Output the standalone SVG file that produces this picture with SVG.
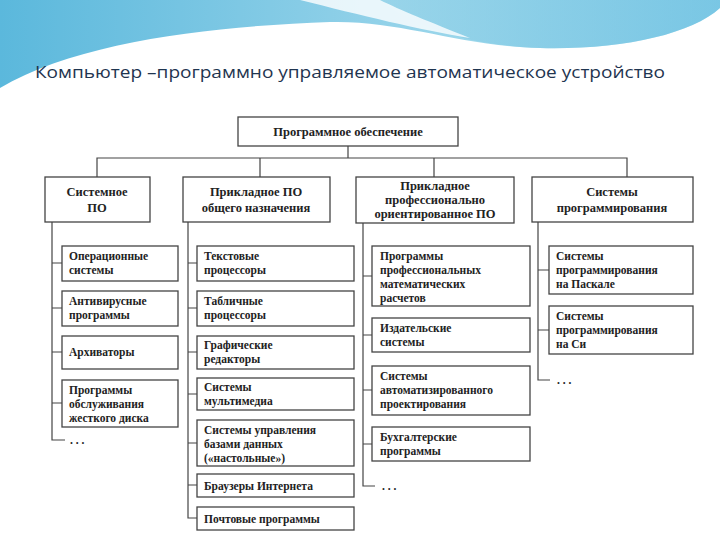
<svg xmlns="http://www.w3.org/2000/svg" width="720" height="540" viewBox="0 0 720 540">
<defs>
<linearGradient id="g1" x1="0" y1="0" x2="1" y2="0"><stop offset="0" stop-color="#5bb8dc"/><stop offset="0.5" stop-color="#8fd0e8"/><stop offset="1" stop-color="#b9e6f1"/></linearGradient>
<linearGradient id="g2" x1="0" y1="0" x2="1" y2="0"><stop offset="0" stop-color="#a9dcec"/><stop offset="1" stop-color="#4fb2dc"/></linearGradient>
</defs>
<style>
.b{fill:#fff;stroke:#444;stroke-width:1.3}
text{font-family:"Liberation Serif","DejaVu Serif","Times New Roman",serif;fill:#222;font-weight:bold}
.t{font-size:11.5px}
.h{font-size:12.5px}
.ti{font-family:"Open Sans","Noto Sans",sans-serif;font-weight:normal;fill:#1f3550}
.c{fill:none;stroke:#444;stroke-width:1.2}
</style>
<rect width="720" height="540" fill="#fff"/>
<path d="M0,0 H720 V8 C690,35 620,50 540,48 C460,46 400,20 330,22 C220,26 80,40 0,88 Z" fill="url(#g1)"/>
<path d="M330,0 H720 V8 C690,35 620,50 540,48 C470,45 420,30 380,0 Z" fill="url(#g2)" opacity="0.6"/>
<path d="M300,0 C360,15 420,30 470,38 C430,22 400,10 380,0 Z" fill="#fff" opacity="0.8"/>
<text class="ti" x="35" y="78" font-size="17" textLength="630" lengthAdjust="spacingAndGlyphs">Компьютер –программно управляемое автоматическое устройство</text>
<g id="connectors">
<path class="c" d="M348,146 V158 M97,177 V158 H627 V177 M260,158 V177 M434,158 V177"/>
<path class="c" d="M52,222 V440 H65 M52,263 H62 M52,308 H62 M52,352 H62 M52,403 H62"/>
<path class="c" d="M188,222 V518 H197 M188,263 H197 M188,308 H197 M188,352 H197 M188,394 H197 M188,443 H197 M188,485 H197"/>
<path class="c" d="M363,222 V486 H375 M363,276 H372 M363,335 H372 M363,390 H372 M363,444 H372"/>
<path class="c" d="M538,222 V380 H550 M538,270 H549 M538,330 H549"/>
</g>
<text class="t" x="70" y="444">. . .</text><text class="t" x="382" y="490">. . .</text><text class="t" x="557" y="384">. . .</text>
<g id="root"><rect class="b" x="238" y="117" width="220" height="29"/><text class="h" x="348" y="136" text-anchor="middle">Программное обеспечение</text></g>
<g id="sys"><rect class="b" x="45" y="177" width="105" height="45"/><text class="h" x="97" y="196" text-anchor="middle">Системное</text><text class="h" x="97" y="212" text-anchor="middle">ПО</text></g>
<g id="app"><rect class="b" x="183" y="177" width="147" height="45"/><text class="h" x="256" y="196" text-anchor="middle">Прикладное ПО</text><text class="h" x="256" y="212" text-anchor="middle">общего назначения</text></g>
<g id="prof"><rect class="b" x="356" y="177" width="158" height="46"/><text class="h" x="435" y="190" text-anchor="middle">Прикладное</text><text class="h" x="435" y="204" text-anchor="middle">профессионально</text><text class="h" x="435" y="218" text-anchor="middle">ориентированное ПО</text></g>
<g id="prog"><rect class="b" x="532" y="177" width="161" height="45"/><text class="h" x="612" y="196" text-anchor="middle">Системы</text><text class="h" x="612" y="212" text-anchor="middle">программирования</text></g>

<g id="os"><rect class="b" x="62" y="246" width="116" height="35"/><text class="t" x="69" y="260">Операционные</text><text class="t" x="69" y="274">системы</text></g>
<g id="av"><rect class="b" x="62" y="291" width="116" height="35"/><text class="t" x="69" y="305">Антивирусные</text><text class="t" x="69" y="319">программы</text></g>
<g id="arch"><rect class="b" x="62" y="336" width="116" height="33"/><text class="t" x="69" y="356">Архиваторы</text></g>
<g id="disk"><rect class="b" x="62" y="380" width="116" height="47"/><text class="t" x="69" y="394">Программы</text><text class="t" x="69" y="408">обслуживания</text><text class="t" x="69" y="422">жесткого диска</text></g>

<g id="txt"><rect class="b" x="197" y="246" width="157" height="35"/><text class="t" x="204" y="260">Текстовые</text><text class="t" x="204" y="274">процессоры</text></g>
<g id="tab"><rect class="b" x="197" y="291" width="157" height="35"/><text class="t" x="204" y="305">Табличные</text><text class="t" x="204" y="319">процессоры</text></g>
<g id="gr"><rect class="b" x="197" y="336" width="157" height="33"/><text class="t" x="204" y="349">Графические</text><text class="t" x="204" y="363">редакторы</text></g>
<g id="mm"><rect class="b" x="197" y="378" width="157" height="32"/><text class="t" x="204" y="391">Системы</text><text class="t" x="204" y="405">мультимедиа</text></g>
<g id="db"><rect class="b" x="197" y="420" width="157" height="46"/><text class="t" x="204" y="434">Системы управления</text><text class="t" x="204" y="448">базами данных</text><text class="t" x="204" y="462">(«настольные»)</text></g>
<g id="br"><rect class="b" x="197" y="474" width="157" height="23"/><text class="t" x="204" y="490">Браузеры Интернета</text></g>
<g id="mail"><rect class="b" x="197" y="507" width="157" height="23"/><text class="t" x="204" y="523">Почтовые программы</text></g>

<g id="math"><rect class="b" x="372" y="246" width="158" height="60"/><text class="t" x="380" y="260">Программы</text><text class="t" x="380" y="274">профессиональных</text><text class="t" x="380" y="288">математических</text><text class="t" x="380" y="302">расчетов</text></g>
<g id="pub"><rect class="b" x="372" y="318" width="158" height="34"/><text class="t" x="380" y="332">Издательские</text><text class="t" x="380" y="346">системы</text></g>
<g id="cad"><rect class="b" x="372" y="366" width="158" height="49"/><text class="t" x="380" y="380">Системы</text><text class="t" x="380" y="394">автоматизированного</text><text class="t" x="380" y="408">проектирования</text></g>
<g id="acc"><rect class="b" x="372" y="427" width="158" height="34"/><text class="t" x="380" y="441">Бухгалтерские</text><text class="t" x="380" y="455">программы</text></g>

<g id="pas"><rect class="b" x="549" y="246" width="144" height="48"/><text class="t" x="556" y="260">Системы</text><text class="t" x="556" y="274">программирования</text><text class="t" x="556" y="288">на Паскале</text></g>
<g id="csys"><rect class="b" x="549" y="306" width="144" height="48"/><text class="t" x="556" y="320">Системы</text><text class="t" x="556" y="334">программирования</text><text class="t" x="556" y="348">на Си</text></g>
</svg>
